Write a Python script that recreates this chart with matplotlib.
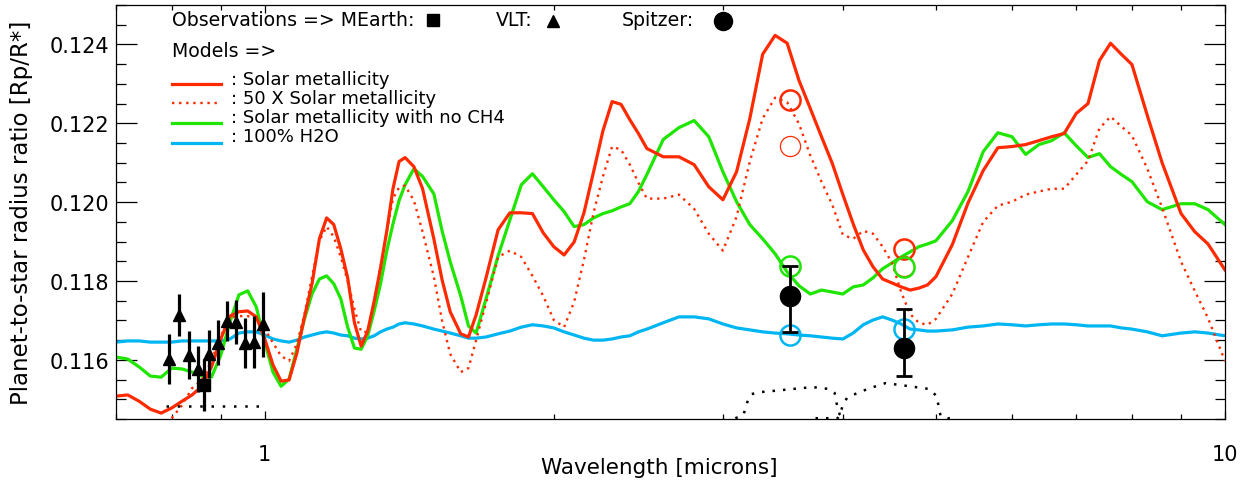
import matplotlib
matplotlib.use("Agg")
import matplotlib.pyplot as plt
from matplotlib.ticker import FixedLocator, NullFormatter, FixedFormatter

plt.rcParams['font.family'] = ['DejaVu Sans']

# ---------------- data ----------------
wavelength = [0.70, 0.72, 0.74, 0.76, 0.78, 0.80, 0.82, 0.84, 0.86, 0.88, 0.90, 0.92, 0.94, 0.96, 0.98,
              1.00, 1.02, 1.04, 1.06, 1.08, 1.10, 1.12, 1.14, 1.16, 1.18, 1.20, 1.22, 1.24, 1.26, 1.28,
              1.30, 1.32, 1.34, 1.36, 1.38, 1.40, 1.43, 1.46, 1.50, 1.53, 1.56, 1.60, 1.63, 1.66,
              1.70, 1.75, 1.80, 1.85, 1.90, 1.95, 2.00, 2.05, 2.10, 2.15, 2.20, 2.25, 2.30, 2.35,
              2.40, 2.45, 2.50, 2.60, 2.70, 2.80, 2.90, 3.00, 3.10, 3.20, 3.30, 3.40, 3.50, 3.60,
              3.70, 3.80, 3.90, 4.00, 4.10, 4.20, 4.30, 4.40, 4.50, 4.60, 4.70, 4.80, 4.90, 5.00,
              5.20, 5.40, 5.60, 5.80, 6.00, 6.20, 6.40, 6.60, 6.80, 7.00, 7.20, 7.40, 7.60, 7.80,
              8.00, 8.30, 8.60, 9.00, 9.30, 9.60, 10.0]

solar = [0.11508, 0.11511, 0.11495, 0.11475, 0.11465, 0.11478, 0.11495, 0.11511, 0.11533, 0.11582,
         0.11653, 0.11711, 0.11722, 0.11724, 0.11709, 0.11653, 0.11587, 0.11546, 0.11549, 0.11617,
         0.11709, 0.11793, 0.11907, 0.11960, 0.11943, 0.11882, 0.11808, 0.11694, 0.11635, 0.11673,
         0.11749, 0.11833, 0.11927, 0.12034, 0.12103, 0.12113, 0.12090, 0.12034, 0.11907, 0.11803,
         0.11722, 0.11666, 0.11658, 0.11714, 0.11808, 0.11930, 0.11973, 0.11973, 0.11971, 0.11922,
         0.11887, 0.11866, 0.11899, 0.11973, 0.12077, 0.12181, 0.12255, 0.12248, 0.12209, 0.12174,
         0.12136, 0.12115, 0.12115, 0.12095, 0.12039, 0.12006, 0.12077, 0.12212, 0.12375, 0.12423,
         0.12403, 0.12309, 0.12237, 0.12166, 0.12098, 0.12019, 0.11945, 0.11879, 0.11836, 0.11805,
         0.11795, 0.11785, 0.11777, 0.11782, 0.11790, 0.11811, 0.11892, 0.11998, 0.12080, 0.12138,
         0.12141, 0.12146, 0.12156, 0.12166, 0.12174, 0.12225, 0.12250, 0.12359, 0.12403, 0.12375,
         0.12349, 0.12220, 0.12100, 0.11971, 0.11925, 0.11894, 0.11828]

# 50 x solar metallicity (enters the plot at 0.80 micron)
solar50 = [0.11452, 0.11485, 0.11528, 0.11549, 0.11597, 0.11661, 0.11706, 0.11711, 0.11711, 0.11704,
           0.11678, 0.11643, 0.11610, 0.11597, 0.11640, 0.11716, 0.11811, 0.11902, 0.11938, 0.11912,
           0.11861, 0.11800, 0.11729, 0.11671, 0.11671, 0.11742, 0.11836, 0.11925, 0.12009, 0.12037,
           0.12042, 0.12004, 0.11925, 0.11811, 0.11699, 0.11615, 0.11569, 0.11579, 0.11650, 0.11744,
           0.11861, 0.11877, 0.11861, 0.11813, 0.11762, 0.11701, 0.11683, 0.11747, 0.11854, 0.11973,
           0.12065, 0.12141, 0.12133, 0.12095, 0.12049, 0.12009, 0.12009, 0.12019, 0.11983, 0.11920,
           0.11877, 0.11963, 0.12103, 0.12212, 0.12265, 0.12253, 0.12199, 0.12118, 0.12052, 0.11993,
           0.11917, 0.11907, 0.11927, 0.11920, 0.11887, 0.11846, 0.11772, 0.11716, 0.11694, 0.11689,
           0.11704, 0.11767, 0.11861, 0.11950, 0.11991, 0.12001, 0.12019, 0.12027, 0.12034, 0.12034,
           0.12070, 0.12105, 0.12187, 0.12217, 0.12192, 0.12169, 0.12085, 0.11986, 0.11849, 0.11775,
           0.11706, 0.11597]

no_ch4 = [0.11607, 0.11602, 0.11582, 0.11559, 0.11556, 0.11579, 0.11577, 0.11569, 0.11559, 0.11556,
          0.11612, 0.11696, 0.11765, 0.11775, 0.11734, 0.11645, 0.11569, 0.11533, 0.11551, 0.11627,
          0.11704, 0.11767, 0.11805, 0.11813, 0.11793, 0.11755, 0.11683, 0.11630, 0.11627, 0.11661,
          0.11724, 0.11793, 0.11877, 0.11945, 0.12004, 0.12044, 0.12085, 0.12065, 0.12021, 0.11927,
          0.11849, 0.11762, 0.11686, 0.11668, 0.11755, 0.11864, 0.11955, 0.12044, 0.12072, 0.12039,
          0.12006, 0.11976, 0.11938, 0.11943, 0.11960, 0.11971, 0.11978, 0.11988, 0.11996, 0.12027,
          0.12070, 0.12159, 0.12189, 0.12207, 0.12166, 0.12077, 0.12001, 0.11943, 0.11907, 0.11869,
          0.11823, 0.11788, 0.11767, 0.11777, 0.11772, 0.11767, 0.11785, 0.11790, 0.11808, 0.11831,
          0.11846, 0.11861, 0.11874, 0.11887, 0.11894, 0.11902, 0.11953, 0.12027, 0.12128, 0.12176,
          0.12166, 0.12121, 0.12146, 0.12156, 0.12176, 0.12143, 0.12113, 0.12123, 0.12090, 0.12070,
          0.12052, 0.12001, 0.11981, 0.11996, 0.11996, 0.11981, 0.11943]

water = [0.11645, 0.11648, 0.11648, 0.11645, 0.11645, 0.11645, 0.11648, 0.11648, 0.11648, 0.11648,
         0.11648, 0.11653, 0.11668, 0.11671, 0.11671, 0.11663, 0.11653, 0.11648, 0.11645, 0.11650,
         0.11658, 0.11663, 0.11668, 0.11671, 0.11668, 0.11663, 0.11661, 0.11655, 0.11653, 0.11655,
         0.11661, 0.11671, 0.11678, 0.11683, 0.11691, 0.11694, 0.11691, 0.11686, 0.11678, 0.11673,
         0.11668, 0.11661, 0.11655, 0.11655, 0.11658, 0.11666, 0.11673, 0.11683, 0.11689, 0.11686,
         0.11681, 0.11671, 0.11663, 0.11655, 0.11650, 0.11650, 0.11653, 0.11658, 0.11661, 0.11671,
         0.11678, 0.11694, 0.11709, 0.11709, 0.11704, 0.11691, 0.11681, 0.11676, 0.11671, 0.11668,
         0.11666, 0.11663, 0.11661, 0.11658, 0.11655, 0.11653, 0.11668, 0.11689, 0.11701, 0.11709,
         0.11701, 0.11691, 0.11678, 0.11676, 0.11673, 0.11673, 0.11676, 0.11683, 0.11686, 0.11691,
         0.11689, 0.11686, 0.11689, 0.11691, 0.11691, 0.11689, 0.11686, 0.11686, 0.11686, 0.11681,
         0.11678, 0.11671, 0.11661, 0.11668, 0.11671, 0.11668, 0.11661]

# observations
vlt_wl = [0.794, 0.814, 0.833, 0.853, 0.874, 0.893, 0.914, 0.934, 0.954, 0.974, 0.995]
vlt_rp = [0.11602, 0.11714, 0.11612, 0.11577, 0.11615, 0.11643, 0.11699, 0.11696, 0.11643, 0.11645, 0.11690]
vlt_err = [0.00064, 0.00053, 0.00060, 0.00058, 0.00060, 0.00057, 0.00050, 0.00057, 0.00064, 0.00066, 0.00083]

mearth_wl = [0.864]
mearth_rp = [0.11536]
mearth_err = [0.00066]

spitzer_wl = [3.52, 4.63]
spitzer_rp = [0.11762, 0.11631]
spitzer_err_low = [0.00091, 0.00071]
spitzer_err_high = [0.00076, 0.00099]

# band-integrated model values at the Spitzer wavelengths
band_solar = [0.12258, 0.11882]
band_solar50 = [0.12143, 0.11838]
band_no_ch4 = [0.11838, 0.11835]
band_water = [0.11663, 0.11678]

# filter response curves (scaled into plot units)
mearth_filter_wl = [0.79, 0.99]
mearth_filter = [0.11483, 0.11483]
irac1_wl = [3.091, 3.151, 3.181, 3.212, 3.274, 3.379, 3.544, 3.719, 3.874, 3.922, 3.940, 3.969, 3.997]
irac1 = [0.11452, 0.11460, 0.11493, 0.11513, 0.11518, 0.11521, 0.11526, 0.11531, 0.11526, 0.11516,
         0.11490, 0.11462, 0.11452]
irac2_wl = [3.746, 3.950, 3.978, 4.006, 4.045, 4.143, 4.265, 4.431, 4.695, 4.925, 5.008, 5.032,
            5.056, 5.142, 5.230]
irac2 = [0.11452, 0.11452, 0.11467, 0.11490, 0.11505, 0.11516, 0.11528, 0.11541, 0.11533, 0.11526,
         0.11508, 0.11483, 0.11457, 0.11452, 0.11452]

RED = '#ff2a00'
GREEN = '#1ee600'
BLUE = '#00b6f2'

fig = plt.figure(figsize=(12.55, 4.85), dpi=100)
ax = fig.add_axes([116 / 1255, 65 / 485, 1109 / 1255, 414 / 485])

dot = (0, (1, 2.0))
ax.plot(wavelength, water, color=BLUE, lw=2.3, solid_capstyle='butt')
ax.plot(wavelength, no_ch4, color=GREEN, lw=2.3)
ax.plot(wavelength[5:], solar50, color=RED, lw=1.7, linestyle=dot)
ax.plot(wavelength, solar, color=RED, lw=2.3)

ax.plot(mearth_filter_wl, mearth_filter, color='black', lw=1.8, linestyle=(0, (1, 3.5)))
ax.plot(irac1_wl, irac1, color='black', lw=1.8, linestyle=(0, (1, 3.2)))
ax.plot(irac2_wl, irac2, color='black', lw=1.8, linestyle=(0, (1, 3.2)))

# model band averages
ax.plot(spitzer_wl, band_solar, 'o', ms=14.5, mfc='none', mec=RED, mew=1.8)
ax.plot(spitzer_wl, band_solar50, 'o', ms=14.5, mfc='none', mec=RED, mew=0.9)
ax.plot(spitzer_wl, band_no_ch4, 'o', ms=14.5, mfc='none', mec=GREEN, mew=1.8)
ax.plot(spitzer_wl, band_water, 'o', ms=14.5, mfc='none', mec=BLUE, mew=1.8)

# observations
ax.errorbar(vlt_wl, vlt_rp, yerr=vlt_err, fmt='^', color='black', ms=9, elinewidth=2.3, capsize=0)
ax.errorbar(mearth_wl, mearth_rp, yerr=mearth_err, fmt='s', color='black', ms=8.6, elinewidth=2.3,
            capsize=0)
ax.errorbar(spitzer_wl, spitzer_rp, yerr=[spitzer_err_low, spitzer_err_high], fmt='o', color='black',
            ms=14.5, elinewidth=2.0, capsize=5.5, capthick=2.0)

ax.set_xscale('log')
ax.set_xlim(0.7, 10.0)
ax.set_ylim(0.1145, 0.125)

ax.xaxis.set_major_locator(FixedLocator([1, 10]))
ax.xaxis.set_major_formatter(FixedFormatter(['1', '10']))
ax.xaxis.set_minor_locator(FixedLocator([0.7, 0.8, 0.9, 2, 3, 4, 5, 6, 7, 8, 9]))
ax.xaxis.set_minor_formatter(NullFormatter())
ax.yaxis.set_major_locator(FixedLocator([0.116, 0.118, 0.120, 0.122, 0.124]))
ax.yaxis.set_major_formatter(FixedFormatter(['0.116', '0.118', '0.120', '0.122', '0.124']))
ax.yaxis.set_minor_locator(FixedLocator([0.1145 + 0.0005 * i for i in range(22)]))

ax.tick_params(which='both', direction='in', top=True, right=True, labelsize=15, width=0.9,
               colors='black')
ax.tick_params(axis='x', which='major', length=6, pad=18)
ax.tick_params(axis='x', which='minor', length=3.5)
ax.tick_params(axis='y', which='major', length=15, pad=5)
ax.tick_params(axis='y', which='minor', length=7.5)
for s in ax.spines.values():
    s.set_linewidth(0.9)

ax.set_xlabel('Wavelength [microns]', fontsize=15.5, va='center')
ax.xaxis.set_label_coords(0.49, -0.116)
ax.set_ylabel('Planet-to-star radius ratio [Rp/R*]', fontsize=16.5, va='center')
ax.yaxis.set_label_coords(-0.0848, 0.5)

# legend-like annotation
fs = 13
tr = ax.transAxes
ax.text(0.0505, 0.9638, 'Observations => MEarth:', transform=tr, fontsize=fs + 0.6, va='center',
        ha='left')
ax.plot([0.2858], [0.9638], 's', color='black', ms=8, transform=tr, clip_on=False)
ax.text(0.3427, 0.9638, 'VLT:', transform=tr, fontsize=fs + 0.6, va='center', ha='left')
ax.plot([0.394], [0.961], '^', color='black', ms=9, transform=tr, clip_on=False)
ax.text(0.4563, 0.9638, 'Spitzer:', transform=tr, fontsize=fs + 0.6, va='center', ha='left')
ax.plot([0.5473], [0.961], 'o', color='black', ms=13, transform=tr, clip_on=False)
ax.text(0.0505, 0.8889, 'Models =>', transform=tr, fontsize=fs + 0.6, va='center', ha='left')

leg_rows = [(0.8092, 0.8213, '-', 2.3, RED, ': Solar metallicity'),
            (0.7633, 0.7754, dot, 1.7, RED, ': 50 X Solar metallicity'),
            (0.7150, 0.7295, '-', 2.3, GREEN, ': Solar metallicity with no CH4'),
            (0.6667, 0.6836, '-', 2.3, BLUE, ': 100% H2O')]
for ly, ty, ls, lw, col, lab in leg_rows:
    ax.plot([0.0505, 0.0947], [ly, ly], linestyle=ls, lw=lw, color=col, transform=tr)
    ax.text(0.1037, ty, lab, transform=tr, fontsize=fs, va='center', ha='left')

fig.savefig('out.png', dpi=100)
